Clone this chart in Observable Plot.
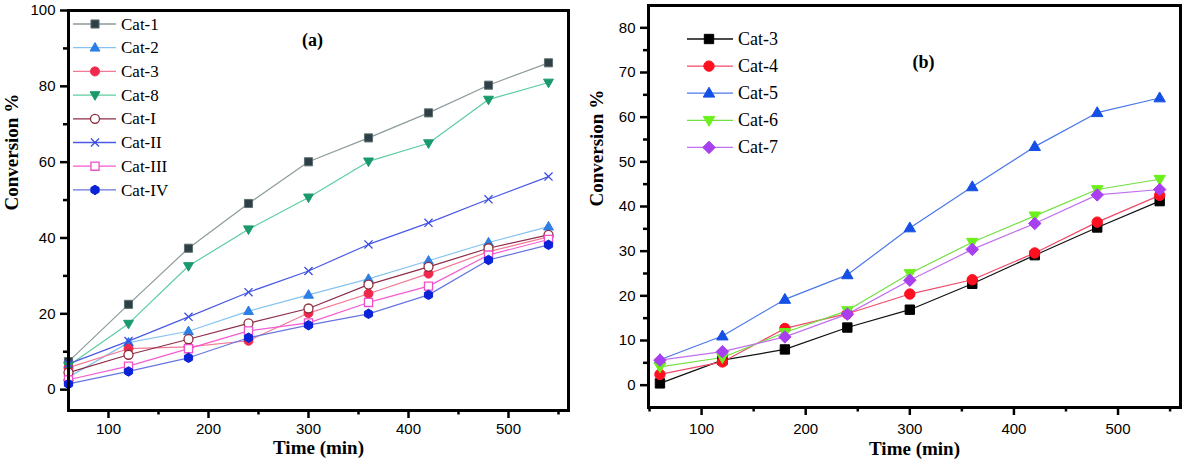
<!DOCTYPE html>
<html>
<head>
<meta charset="utf-8">
<script src="https://cdn.jsdelivr.net/npm/d3@7"></script>
<script src="https://cdn.jsdelivr.net/npm/@observablehq/plot@0.6"></script>
<style>
  html, body { margin: 0; padding: 0; background: white; }
  #row { display: flex; flex-direction: row; width: 1182px; height: 469px; }
  #row > svg { display: block; }
</style>
</head>
<body>
<div id="row"></div>
<script>
// ---------- data ----------
const times = [60, 120, 180, 240, 300, 360, 420, 480, 540];

// panel (a)
const namesA = ["Cat-1", "Cat-2", "Cat-3", "Cat-8", "Cat-I", "Cat-II", "Cat-III", "Cat-IV"];
const cat1  = [7.4, 22.5, 37.3, 49.1, 60.1, 66.4, 73.0, 80.3, 86.2];
const cat2  = [3.3, 12.4, 15.4, 20.7, 25.0, 29.2, 34.0, 38.8, 43.0];
const cat3a = [5.8, 10.8, 11.3, 12.9, 20.2, 25.3, 30.6, 36.4, 40.3];
const cat8  = [6.3, 17.4, 32.6, 42.3, 50.7, 60.2, 65.0, 76.5, 81.0];
const catI  = [4.5, 9.2, 13.3, 17.5, 21.4, 27.7, 32.4, 37.3, 40.8];
const catII = [6.8, 12.8, 19.2, 25.7, 31.3, 38.3, 44.0, 50.2, 56.2];
const catIII= [2.6, 6.2, 10.8, 15.5, 17.6, 23.0, 27.3, 35.5, 39.6];
const catIV = [1.5, 4.8, 8.4, 13.7, 17.0, 20.0, 25.0, 34.2, 38.2];
const valuesA = [cat1, cat2, cat3a, cat8, catI, catII, catIII, catIV];

// panel (b)
const namesB = ["Cat-3", "Cat-4", "Cat-5", "Cat-6", "Cat-7"];
const cat3b = [0.4, 5.6, 8.0, 12.9, 16.9, 22.7, 29.1, 35.3, 41.2];
const cat4  = [2.4, 5.2, 12.7, 16.0, 20.4, 23.6, 29.6, 36.5, 42.5];
const cat5  = [5.7, 11.0, 19.2, 24.7, 35.2, 44.4, 53.4, 61.0, 64.3];
const cat6  = [4.1, 6.2, 11.8, 16.7, 25.0, 32.0, 37.9, 43.8, 46.1];
const cat7  = [5.6, 7.5, 10.8, 15.9, 23.5, 30.4, 36.2, 42.6, 43.8];
const valuesB = [cat3b, cat4, cat5, cat6, cat7];

// ticks
const xMajor = [100, 200, 300, 400, 500];
const xMinorA = [150, 250, 350, 450, 550];
const xMinorB = [50, 150, 250, 350, 450, 550];
const yMajorA = [0, 20, 40, 60, 80, 100];
const yMinorA = [10, 30, 50, 70, 90];
const yMajorB = [0, 10, 20, 30, 40, 50, 60, 70, 80];
const yMinorB = [5, 15, 25, 35, 45, 55, 65, 75];

const xLabel = "Time (min)";
const yLabel = "Conversion %";

// ---------- symbols ----------
const mk = fn => ({draw(ctx, size) { const r = Math.sqrt(size / Math.PI); fn(ctx, r); }});
const SYM = {
  square: mk((c, r) => { const h = r * 0.9; c.rect(-h, -h, 2 * h, 2 * h); }),
  triangle: mk((c, r) => { c.moveTo(0, -r * 1.15); c.lineTo(r * 1.1, r * 0.75); c.lineTo(-r * 1.1, r * 0.75); c.closePath(); }),
  triangleDown: mk((c, r) => { c.moveTo(0, r * 1.15); c.lineTo(r * 1.1, -r * 0.75); c.lineTo(-r * 1.1, -r * 0.75); c.closePath(); }),
  circle: mk((c, r) => { c.moveTo(r, 0); c.arc(0, 0, r, 0, 2 * Math.PI); }),
  times: mk((c, r) => { const h = r * 0.9; c.moveTo(-h, -h); c.lineTo(h, h); c.moveTo(h, -h); c.lineTo(-h, h); }),
  hexagon: mk((c, r) => { const R = r * 1.05; for (let k = 0; k < 6; k++) { const x = R * Math.sin(k * Math.PI / 3), y = -R * Math.cos(k * Math.PI / 3); if (k === 0) c.moveTo(x, y); else c.lineTo(x, y); } c.closePath(); }),
  diamond: mk((c, r) => { const h = r * 1.2; c.moveTo(0, -h); c.lineTo(h, 0); c.lineTo(0, h); c.lineTo(-h, 0); c.closePath(); })
};

const stylesA = [
  {line: "#8d9b9c", fill: "#2f3f48", stroke: "#5f6f70", sym: "square"},
  {line: "#86c3f0", fill: "#2d7fe6", stroke: "#2d7fe6", sym: "triangle"},
  {line: "#f27a95", fill: "#f0284c", stroke: "#f0284c", sym: "circle"},
  {line: "#5ccda0", fill: "#1a9a6c", stroke: "#1a9a6c", sym: "triangleDown"},
  {line: "#8e2d48", fill: "white", stroke: "#8e2d3c", sym: "circle", sw: 1.3},
  {line: "#4a5ae6", fill: "none", stroke: "#3a4de0", sym: "times", sw: 1.3},
  {line: "#f55ad2", fill: "white", stroke: "#f050c8", sym: "square", sw: 1.3},
  {line: "#6775e0", fill: "#0a22d8", stroke: "#0a22d8", sym: "hexagon"}
];
const stylesB = [
  {line: "#111111", fill: "#000000", stroke: "#000000", sym: "square"},
  {line: "#f04a6a", fill: "#ff1020", stroke: "#ff1020", sym: "circle"},
  {line: "#4a78e8", fill: "#1450e6", stroke: "#1450e6", sym: "triangle"},
  {line: "#72e040", fill: "#6cf01c", stroke: "#6cf01c", sym: "triangleDown"},
  {line: "#c070f0", fill: "#a840f0", stroke: "#a840f0", sym: "diamond"}
];

const serif = "'Liberation Serif', 'Times New Roman', serif";
const sans = "'Liberation Sans', Arial, sans-serif";

function panel(cfg) {
  const seriesMarks = [];
  cfg.values.forEach((vals, i) => {
    const st = cfg.styles[i];
    const data = times.map((t, j) => ({t, v: vals[j]}));
    seriesMarks.push(Plot.line(data, {x: "t", y: "v", stroke: st.line, strokeWidth: 1.2}));
  });
  cfg.values.forEach((vals, i) => {
    const st = cfg.styles[i];
    const data = times.map((t, j) => ({t, v: vals[j]}));
    seriesMarks.push(Plot.dot(data, {x: "t", y: "v", symbol: SYM[st.sym], r: cfg.r,
      fill: st.fill, stroke: st.stroke, strokeWidth: st.sw || 1}));
  });

  const svg = Plot.plot({
    width: cfg.width, height: 469,
    marginLeft: cfg.ml, marginRight: cfg.mr, marginTop: cfg.mt, marginBottom: cfg.mb,
    x: {domain: cfg.xDomain},
    y: {domain: cfg.yDomain},
    style: {fontFamily: sans, fontSize: "14px", color: "black", background: "white", overflow: "visible"},
    marks: [
      Plot.axisX({ticks: xMajor, tickSize: 8, tickPadding: cfg.xPad, strokeWidth: 2.5, label: null, fontSize: 15, fontFamily: sans}),
      Plot.axisX({ticks: cfg.xMinor, tickSize: 4.5, text: null, label: null, strokeWidth: 2.5}),
      Plot.axisY({ticks: cfg.yMajor, tickSize: 8, tickPadding: 5, strokeWidth: 2.5, label: null, fontSize: 15, fontFamily: sans}),
      Plot.axisY({ticks: cfg.yMinor, tickSize: 5, text: null, label: null, strokeWidth: 2.5}),
      ...seriesMarks,
      Plot.frame({strokeWidth: 3}),
      Plot.text([xLabel], {text: d => d, frameAnchor: "bottom", dy: cfg.xLabDy, fontFamily: serif, fontWeight: "bold", fontSize: 19}),
      Plot.text([yLabel], {text: d => d, frameAnchor: "left", dx: cfg.yLabDx, rotate: -90, fontFamily: serif, fontWeight: "bold", fontSize: 19}),
      Plot.text([cfg.tag], {text: d => d, frameAnchor: "top", dx: cfg.tagDx, dy: cfg.tagDy, fontFamily: serif, fontWeight: "bold", fontSize: 18})
    ]
  });

  // legend
  const g = d3.select(svg).append("g").attr("text-anchor", "start");
  cfg.names.forEach((name, i) => {
    const st = cfg.styles[i];
    const y = cfg.leg.y0 + i * cfg.leg.dy;
    g.append("line").attr("x1", cfg.leg.x1).attr("x2", cfg.leg.x2).attr("y1", y).attr("y2", y)
      .attr("stroke", st.line).attr("stroke-width", 1.3);
    g.append("path").attr("transform", `translate(${cfg.leg.xm},${y})`)
      .attr("d", d3.symbol(SYM[st.sym], Math.PI * cfg.r * cfg.r)())
      .attr("fill", st.fill).attr("stroke", st.stroke).attr("stroke-width", st.sw || 1);
    g.append("text").attr("x", cfg.leg.xt).attr("y", y).attr("dy", "0.33em")
      .attr("text-anchor", "start")
      .attr("font-family", serif).attr("font-size", cfg.leg.fs).attr("fill", "black").text(name);
  });
  return svg;
}

const row = document.getElementById("row");
row.appendChild(panel({
  width: 590, ml: 68, mr: 22, mt: 10, mb: 59,
  xDomain: [60, 560], yDomain: [-5.5, 100],
  xMinor: xMinorA, yMajor: yMajorA, yMinor: yMinorA, xPad: 5,
  names: namesA, values: valuesA, styles: stylesA, r: 4.5,
  xLabDy: 43, yLabDx: -57, tag: "(a)", tagDx: -6, tagDy: 23,
  leg: {y0: 24, dy: 23.7, x1: 73, x2: 116, xm: 95, xt: 121, fs: 17}
}));
row.appendChild(panel({
  width: 592, ml: 58, mr: 2, mt: 5, mb: 62,
  xDomain: [49, 560], yDomain: [-5, 85],
  xMinor: xMinorB, yMajor: yMajorB, yMinor: yMinorB, xPad: 8,
  names: namesB, values: valuesB, styles: stylesB, r: 5.2,
  xLabDy: 47, yLabDx: -52, tag: "(b)", tagDx: 9, tagDy: 50,
  leg: {y0: 39, dy: 27.1, x1: 97, x2: 143, xm: 119, xt: 148, fs: 18}
}));
</script>
</body>
</html>
